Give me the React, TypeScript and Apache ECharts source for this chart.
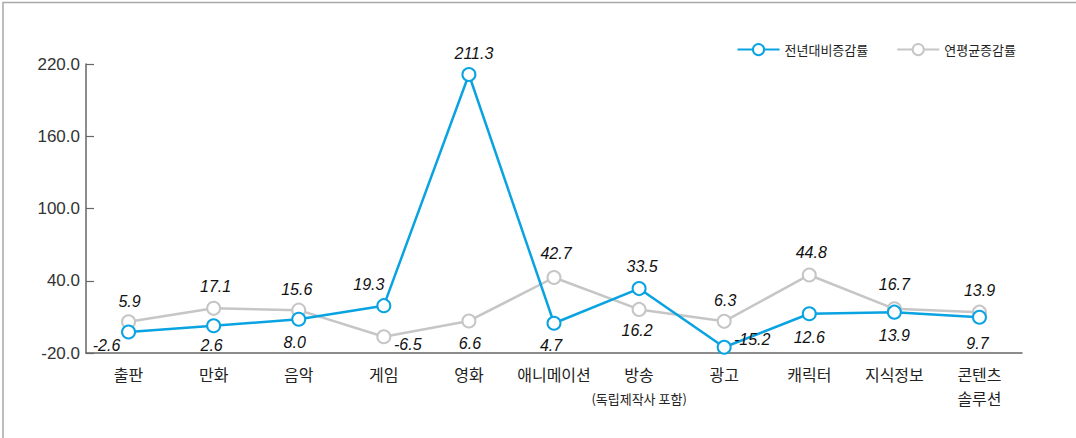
import React, { useEffect, useRef } from "react";
import * as echarts from "echarts";

const categories = [
  "출판",
  "만화",
  "음악",
  "게임",
  "영화",
  "애니메이션",
  "방송\n(독립제작사 포함)",
  "광고",
  "캐릭터",
  "지식정보",
  "콘텐츠\n솔루션",
];
const yoyName = "전년대비증감률";
const cagrName = "연평균증감률";
const yoyValues = [-2.6, 2.6, 8.0, 19.3, 211.3, 4.7, 33.5, -15.2, 12.6, 13.9, 9.7];
const cagrValues = [5.9, 17.1, 15.6, -6.5, 6.6, 42.7, 16.2, 6.3, 44.8, 16.7, 13.9];
const yTicks = [-20, 40, 100, 160, 220];

// label offsets relative to each point (style only)
const yoyLabelOffsets = [
  [-22, 13], [-2, 20], [-4, 23], [-15, -21], [5, -21], [-3, 22],
  [3, -22], [28, -8], [0, 24], [0, 23], [-2, 26],
];
const cagrLabelOffsets = [
  [1, -20], [2, -22], [-2, -21], [24, 8], [1, 23], [2, -24],
  [-2, 21], [1, -21], [2, -22], [0, -24], [0, -22],
];

const BLUE = "#0AA3E2";
const GREY = "#C6C6C6";
const LABEL_FONT = "'Liberation Sans', Arial, sans-serif";
const KR_FONT = "'Noto Sans CJK KR', 'Noto Sans', sans-serif";

function buildData(values: number[], offsets: number[][]) {
  return values.map((v, i) => ({
    value: v,
    label: {
      show: true,
      position: "inside",
      offset: offsets[i],
      formatter: (p: any) => Number(p.value).toFixed(1),
      fontFamily: LABEL_FONT,
      fontStyle: "italic",
      fontSize: 16,
      color: "#111",
    },
  }));
}

export default function App() {
  const ref = useRef<HTMLDivElement>(null);
  useEffect(() => {
    if (!ref.current) return;
    const chart = echarts.init(ref.current, undefined, { renderer: "svg" });
    chart.setOption({
      animation: false,
      backgroundColor: "#fff",
      graphic: [
        {
          type: "rect",
          shape: { x: 3, y: 2.5, width: 1200, height: 600 },
          style: { fill: "none", stroke: "#A8A8A8", lineWidth: 1.5 },
          silent: true,
        },
      ],
      legend: {
        data: [yoyName, cagrName],
        right: 55,
        top: 38,
        itemWidth: 42,
        itemHeight: 14,
        itemGap: 28,
        textStyle: { fontFamily: KR_FONT, fontSize: 13, color: "#222" },
      },
      grid: { left: 86, right: 54, top: 64, bottom: 85, containLabel: false },
      xAxis: {
        type: "category",
        data: categories,
        boundaryGap: true,
        axisLine: { onZero: false, lineStyle: { color: "#666", width: 1.5 } },
        axisTick: { inside: true, length: 6, lineStyle: { color: "#666", width: 1.2 } },
        axisLabel: {
          interval: 0,
          margin: 9,
          fontFamily: KR_FONT,
          fontSize: 16,
          color: "#222",
          lineHeight: 24,
          formatter: (v: string) => {
            const parts = v.split("\n");
            return parts
              .map((p) => (p.startsWith("(") ? "{s|" + p + "}" : p))
              .join("\n");
          },
          rich: {
            s: { fontFamily: KR_FONT, fontSize: 13, color: "#222", lineHeight: 24 },
          },
        },
      },
      yAxis: {
        type: "value",
        min: -20,
        max: 220,
        splitLine: { show: false },
        axisLine: { show: true, lineStyle: { color: "#666", width: 1.5 } },
        axisTick: {
          show: true,
          inside: true,
          length: 8,
          customValues: yTicks,
          lineStyle: { color: "#666", width: 1.2 },
        },
        axisLabel: {
          customValues: yTicks,
          margin: 6,
          fontFamily: LABEL_FONT,
          fontSize: 17,
          color: "#333",
          formatter: (v: number) => v.toFixed(1),
        },
      },
      series: [
        {
          name: cagrName,
          type: "line",
          data: buildData(cagrValues, cagrLabelOffsets),
          symbol: "emptyCircle",
          symbolSize: 13,
          color: GREY,
          lineStyle: { color: GREY, width: 2.5 },
          itemStyle: { color: GREY, borderColor: GREY, borderWidth: 2.5 },
          z: 2,
        },
        {
          name: yoyName,
          type: "line",
          data: buildData(yoyValues, yoyLabelOffsets),
          symbol: "emptyCircle",
          symbolSize: 13,
          color: BLUE,
          lineStyle: { color: BLUE, width: 2.5 },
          itemStyle: { color: BLUE, borderColor: BLUE, borderWidth: 2.5 },
          z: 3,
        },
      ],
    });
    return () => chart.dispose();
  }, []);
  return (
    <div
      ref={ref}
      style={{ position: "fixed", left: 0, top: 0, width: 1076, height: 438 }}
    />
  );
}
